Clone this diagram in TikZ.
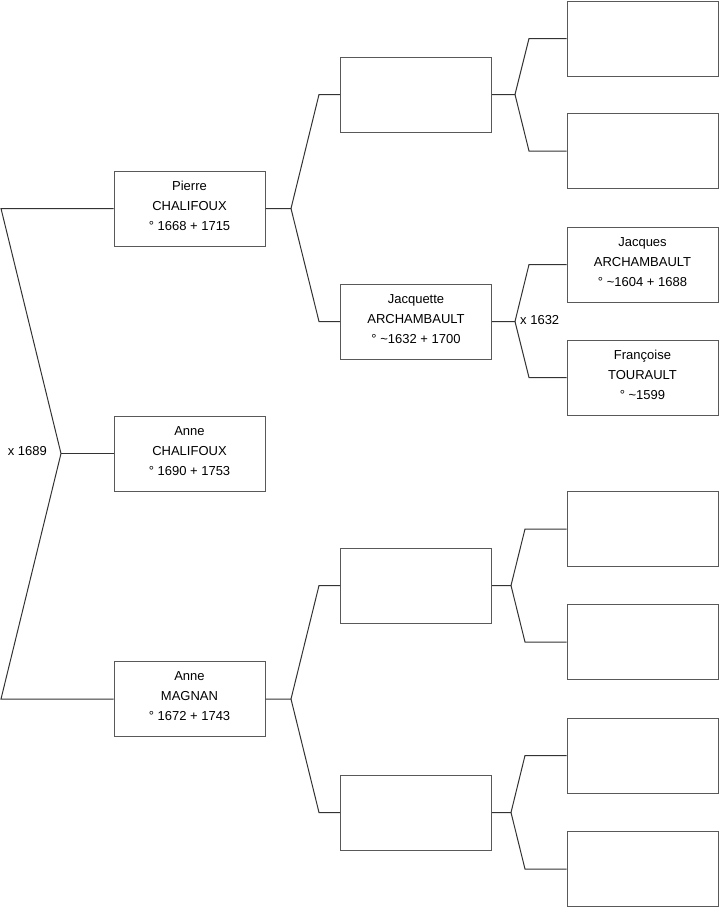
\documentclass[tikz,border=0pt]{standalone}
\usepackage{fontspec}
\setmainfont{Liberation Sans}
\begin{document}
\begin{tikzpicture}[x=1pt,y=-1pt,
  person/.style={draw=black!65, line width=1pt, fill=white, minimum width=151pt, minimum height=75pt, inner sep=0pt},
  txt/.style={inner sep=0pt, align=center, font=\fontsize{13}{20}\selectfont, yshift=2.5pt},
  who/.style={label={[txt]center:#1}},
  link/.style={draw=black!80, line width=1pt},
  lbl/.style={inner sep=0pt, font=\fontsize{13}{16}\selectfont}]
\useasboundingbox (0,0) rectangle (719,908);
% level 1
\node[person, who={Pierre\\CHALIFOUX\\° 1668 + 1715}] (p1) at (189.5,208.5) {};
\node[person, who={Anne\\CHALIFOUX\\° 1690 + 1753}] (p0) at (189.5,453.5) {};
\node[person, who={Anne\\MAGNAN\\° 1672 + 1743}] (p2) at (189.5,699) {};
% level 2
\node[person] (q1) at (416,94.5) {};
\node[person, who={Jacquette\\ARCHAMBAULT\\° \textasciitilde1632 + 1700}] (q2) at (416,321.5) {};
\node[person] (q3) at (416,585.5) {};
\node[person] (q4) at (416,812.5) {};
% level 3
\node[person] (r1) at (642.5,38.5) {};
\node[person] (r2) at (642.5,151) {};
\node[person, who={Jacques\\ARCHAMBAULT\\° \textasciitilde1604 + 1688}] (r3) at (642.5,264.5) {};
\node[person, who={Françoise\\TOURAULT\\° \textasciitilde1599}] (r4) at (642.5,377.5) {};
\node[person] (r5) at (642.5,529) {};
\node[person] (r6) at (642.5,642) {};
\node[person] (r7) at (642.5,755.5) {};
\node[person] (r8) at (642.5,869) {};
% connector points
\coordinate (a1) at (1,208.5);
\coordinate (a0) at (61,453.5);
\coordinate (a2) at (1,699);
\coordinate (j1) at (291,208.5);
\coordinate (b1) at (319,94.5);
\coordinate (b2) at (319,321.5);
\coordinate (j2) at (291,699);
\coordinate (b3) at (319,585.5);
\coordinate (b4) at (319,812.5);
\coordinate (k1) at (515,94.5);
\coordinate (c1) at (529,38.5);
\coordinate (c2) at (529,151);
\coordinate (k2) at (515,321.5);
\coordinate (c3) at (529,264.5);
\coordinate (c4) at (529,377.5);
\coordinate (k3) at (511,585.5);
\coordinate (c5) at (525,529);
\coordinate (c6) at (525,642);
\coordinate (k4) at (511,812.5);
\coordinate (c7) at (525,755.5);
\coordinate (c8) at (525,869);
% connectors
\draw[link] (p1.west) -- (a1) -- (a0) -- (a2) -- (p2.west);
\draw[link] (a0) -- (p0.west);
\draw[link] (p1.east) -- (j1) -- (b1) -- (q1.west);
\draw[link] (j1) -- (b2) -- (q2.west);
\draw[link] (p2.east) -- (j2) -- (b3) -- (q3.west);
\draw[link] (j2) -- (b4) -- (q4.west);
\draw[link] (q1.east) -- (k1) -- (c1) -- (r1.west);
\draw[link] (k1) -- (c2) -- (r2.west);
\draw[link] (q2.east) -- (k2) -- (c3) -- (r3.west);
\draw[link] (k2) -- (c4) -- (r4.west);
\draw[link] (q3.east) -- (k3) -- (c5) -- (r5.west);
\draw[link] (k3) -- (c6) -- (r6.west);
\draw[link] (q4.east) -- (k4) -- (c7) -- (r7.west);
\draw[link] (k4) -- (c8) -- (r8.west);
% labels
\node[lbl, anchor=east] (m1) at (47,451.5) {x 1689};
\node[lbl, anchor=west] (m2) at (520,320.5) {x 1632};
\end{tikzpicture}
\end{document}
